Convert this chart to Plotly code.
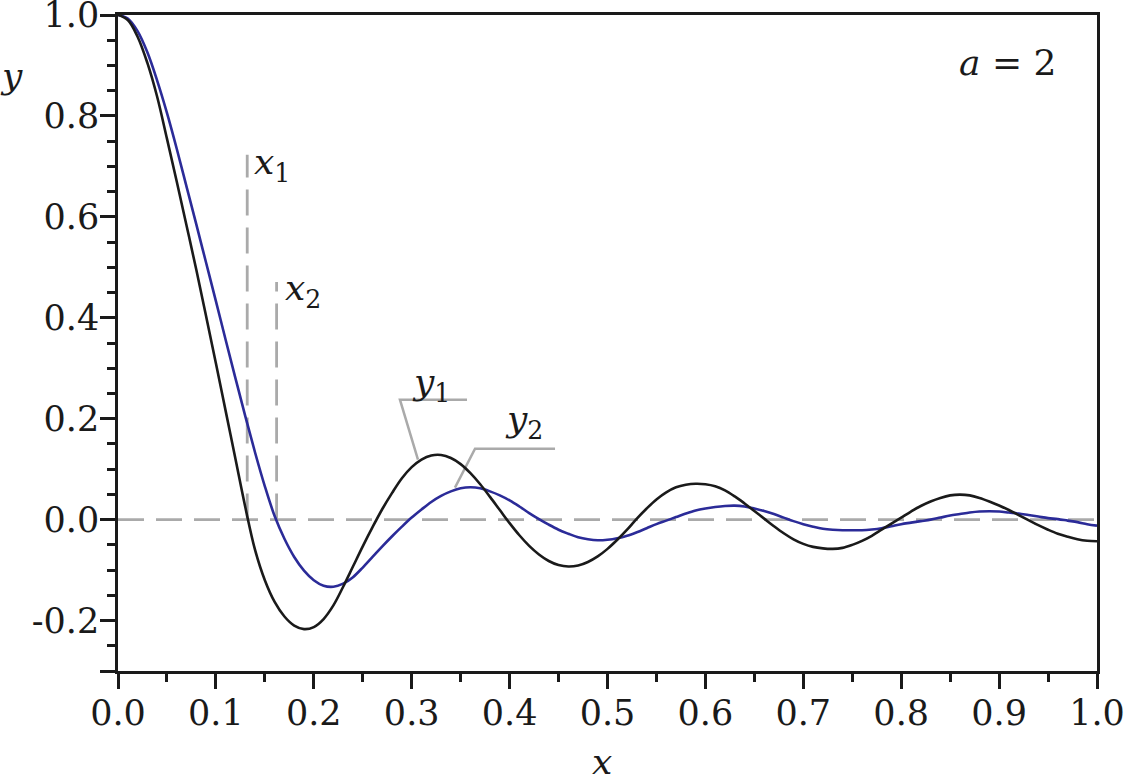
import plotly.graph_objects as go

# sample positions along x (both curves read at the same x values)
xs = [i / 100 for i in range(101)]

# y1 (black)
y1 = [1.000, 0.990, 0.957, 0.905, 0.838, 0.755, 0.670, 0.583, 0.495, 0.403,
      0.310, 0.215, 0.120, 0.025, -0.060, -0.120, -0.163, -0.192, -0.210, -0.217,
      -0.213, -0.197, -0.170, -0.133, -0.093, -0.053, -0.015, 0.021, 0.053, 0.082,
      0.104, 0.119, 0.127, 0.128, 0.122, 0.110, 0.092, 0.070, 0.045, 0.019,
      -0.007, -0.031, -0.052, -0.069, -0.082, -0.090, -0.093, -0.091, -0.084, -0.073,
      -0.058, -0.040, -0.020, 0.002, 0.022, 0.040, 0.054, 0.064, 0.069, 0.071,
      0.070, 0.066, 0.058, 0.046, 0.032, 0.017, 0.002, -0.013, -0.027, -0.039,
      -0.048, -0.054, -0.057, -0.058, -0.056, -0.050, -0.042, -0.032, -0.020, -0.008,
      0.004, 0.016, 0.027, 0.036, 0.043, 0.048, 0.0495, 0.048, 0.043, 0.036,
      0.028, 0.019, 0.009, -0.001, -0.011, -0.020, -0.028, -0.034, -0.039, -0.042,
      -0.043]

# y2 (blue)
y2 = [1.000, 0.993, 0.968, 0.926, 0.870, 0.806, 0.735, 0.660, 0.585, 0.509,
      0.433, 0.356, 0.280, 0.205, 0.133, 0.066, 0.007, -0.038, -0.074, -0.101,
      -0.120, -0.131, -0.133, -0.127, -0.114, -0.095, -0.074, -0.053, -0.033, -0.014,
      0.004, 0.020, 0.035, 0.047, 0.056, 0.062, 0.064, 0.062, 0.056, 0.048,
      0.038, 0.026, 0.013, 0.001, -0.010, -0.020, -0.028, -0.035, -0.039, -0.041,
      -0.040, -0.037, -0.032, -0.025, -0.017, -0.009, -0.002, 0.005, 0.012, 0.018,
      0.022, 0.025, 0.027, 0.0277, 0.026, 0.022, 0.017, 0.011, 0.004, -0.003,
      -0.009, -0.014, -0.018, -0.020, -0.021, -0.021, -0.021, -0.0195, -0.017, -0.013,
      -0.009, -0.006, -0.003, 0.000, 0.004, 0.008, 0.011, 0.014, 0.016, 0.0165,
      0.016, 0.014, 0.012, 0.009, 0.006, 0.003, 0.001, -0.002, -0.005, -0.009,
      -0.012]

# roots marked with dashed lines
x1_root, x1_top = 0.132, 0.723
x2_root, x2_top = 0.162, 0.471

# leader lines for labels
y1_leader_x = [0.3565, 0.288, 0.3064]
y1_leader_y = [0.2376, 0.2376, 0.119]
y2_leader_x = [0.4464, 0.3647, 0.3442]
y2_leader_y = [0.1406, 0.1406, 0.0634]

GREY = "#aaaaaa"
DASH = "26px,12px"
INK = "#1a1a1a"
FONT = "DejaVu Serif"  # the only serif face the browser finds here

fig = go.Figure()
fig.add_trace(go.Scatter(x=[0, 1], y=[0, 0], mode="lines",
                         line=dict(color=GREY, width=2.8, dash=DASH)))
fig.add_trace(go.Scatter(x=[x1_root, x1_root], y=[0, x1_top], mode="lines",
                         line=dict(color=GREY, width=2.8, dash=DASH)))
fig.add_trace(go.Scatter(x=[x2_root, x2_root], y=[0, x2_top], mode="lines",
                         line=dict(color=GREY, width=2.8, dash=DASH)))
fig.add_trace(go.Scatter(x=y1_leader_x, y=y1_leader_y, mode="lines",
                         line=dict(color=GREY, width=2.5)))
fig.add_trace(go.Scatter(x=y2_leader_x, y=y2_leader_y, mode="lines",
                         line=dict(color=GREY, width=2.5)))
fig.add_trace(go.Scatter(x=xs, y=y2, mode="lines",
                         line=dict(color="#2b2b98", width=2.6, shape="spline")))
fig.add_trace(go.Scatter(x=xs, y=y1, mode="lines",
                         line=dict(color=INK, width=2.6, shape="spline")))

ann_font = dict(family=FONT, size=36, color=INK)
notes = [
    (0.1369, 0.703, "<i>x</i><sub>1</sub>"),
    (0.1685, 0.455, "<i>x</i><sub>2</sub>"),
    (0.2983, 0.268, "<i>y</i><sub>1</sub>"),
    (0.3933, 0.195, "<i>y</i><sub>2</sub>"),
]
for ax, ay, txt in notes:
    fig.add_annotation(x=ax, y=ay, text=txt, showarrow=False, xanchor="left",
                       yanchor="middle", font=ann_font)

fig.add_annotation(xref="paper", yref="paper", x=0.909, y=0.927, text="<i>a</i> = 2",
                   showarrow=False, xanchor="center", yanchor="middle", font=ann_font)
fig.add_annotation(xref="paper", yref="paper", x=0.4944, y=-0.138, text="<i>x</i>",
                   showarrow=False, xanchor="center", yanchor="middle", font=ann_font)
fig.add_annotation(xref="paper", yref="paper", x=-0.1083, y=0.9085, text="<i>y</i>",
                   showarrow=False, xanchor="center", yanchor="middle", font=ann_font)

axis_common = dict(
    showline=True, linecolor=INK, linewidth=2.5, mirror=True,
    ticks="outside", ticklen=15, tickwidth=2.5, tickcolor=INK,
    showgrid=False, zeroline=False, automargin=False, ticklabeloverflow="allow",
    ticklabelstandoff=-6,
    tickfont=dict(family=FONT, size=35, color=INK),
    minor=dict(ticks="outside", ticklen=8, tickwidth=2.5, tickcolor=INK, dtick=0.05),
)

fig.update_layout(
    width=1125, height=775,
    margin=dict(l=118, r=28, t=15, b=104),
    font=dict(family=FONT, color=INK),
    paper_bgcolor="white", plot_bgcolor="white",
    showlegend=False,
    xaxis=dict(range=[0, 1], tickvals=[i / 10 for i in range(11)],
               ticktext=["%.1f" % (i / 10) for i in range(11)], **axis_common),
    yaxis=dict(range=[-0.3, 1.0], tickvals=[-0.3, -0.2, 0.0, 0.2, 0.4, 0.6, 0.8, 1.0],
               ticktext=["", "-0.2", "0.0", "0.2", "0.4", "0.6", "0.8", "1.0"], **axis_common),
)

# drop the page's default body margin so the figure sits at the window corner
fig.write_html("out.html", config=dict(displayModeBar=False),
               post_script="document.body.style.margin = '0';")
